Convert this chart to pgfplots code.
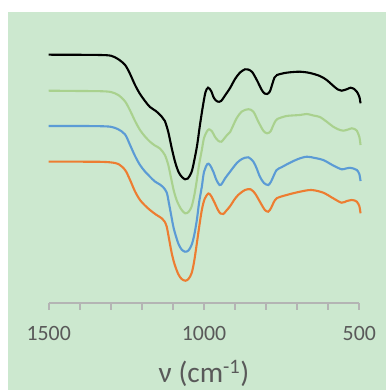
\documentclass[border=0pt]{standalone}
\usepackage{fontspec}
\setmainfont{Carlito}
\usepackage{pgfplots}
\pgfplotsset{compat=1.18}
\definecolor{bg}{HTML}{CCE8CF}
\definecolor{cgreen}{HTML}{A9D18E}
\definecolor{cblue}{HTML}{5B9BD5}
\definecolor{corange}{HTML}{ED7D31}
\definecolor{txt}{HTML}{595959}
\definecolor{axgray}{HTML}{B4B4B4}
\begin{document}
\begin{tikzpicture}[x=1pt,y=1pt]
\fill[white] (0,0) rectangle (386,390);
\fill[bg] (8,0) rectangle (386,378);
\begin{axis}[
  at={(48.7pt,86.7pt)}, anchor=south west,
  scale only axis, width=310.6pt, height=291.3pt,
  xmin=500, xmax=1500, ymin=86.7, ymax=378,
  x dir=reverse, clip=false,
  axis x line=bottom, axis y line=none,
  axis line style={-, draw=axgray, line width=2pt},
  every outer x axis line/.append style={-, draw=axgray, line width=2pt},
  xtick={500,1000,1500}, xticklabels={500,1000,1500},
  minor xtick={600,700,800,900,1100,1200,1300,1400},
  tick align=outside, major tick length=6.5pt, minor tick length=6.5pt,
  tick style={draw=axgray, line width=2pt},
  major tick style={draw=axgray, line width=2pt},
  minor tick style={draw=axgray, line width=2pt},
  /pgf/number format/assume math mode=true,
  xticklabel style={font=\fontsize{21.8}{26}\selectfont, text=txt, yshift=-13pt},
  xlabel={ν (cm\textsuperscript{-1})},
  xlabel style={at={(axis description cs:0.5,0)}, anchor=center, yshift=-69.7pt, font=\fontsize{29.3}{34}\selectfont, text=txt},
]
\addplot[black, line width=2.1pt, smooth] coordinates {
(1500,335.3) (1399,335.2) (1335,335) (1300,334.3) (1277,331) (1254,325) (1238,316) (1222,305) (1206,296) (1190,289) (1174,283) (1155,279) (1136,273.3) (1126,269) (1115,258) (1104,242) (1093,228) (1082,218) (1071,213) (1061,210.7) (1052,211.5) (1040,218) (1031,230) (1022,245) (1013,265) (1003,285) (995,298) (987,302.3) (977,299) (968,292) (957,288.5) (945,289) (929,296) (916,302) (900,311) (884,317.5) (868,320.7) (858,320.5) (845,318) (830,310) (814,300) (805,296.5) (797,296) (788,298.5) (780,306) (773,312.5) (765,315) (734,317.3) (691,318.3) (659,317) (627,314) (605,310) (585,304.5) (569,300.5) (557,299.3) (541,300.7) (528,302.3) (519,301.5) (508,298.3) (500,293.3) (496,286.7)
};
\addplot[cgreen, line width=2.1pt, smooth] coordinates {
(1500,299.3) (1399,299) (1335,298.8) (1300,298) (1276,295) (1254,288.5) (1238,279.5) (1222,269) (1206,260) (1190,253.5) (1174,248.3) (1158,244.5) (1142,241.5) (1126,235) (1115,225) (1106,212) (1097,199) (1087,189) (1074,181) (1061,176.7) (1050,178) (1040,183.3) (1031,195) (1023,210) (1016,225) (1007,240) (1000,252) (991,258.3) (984,260.7) (974,258.5) (965,253.3) (955,249.5) (944,248.3) (927,254.5) (916,258) (895,271.7) (878,278.5) (857,280.8) (841,278.3) (825,268.3) (809,259.3) (797,256.7) (786,258.5) (778,264) (770,269) (764,271) (734,274) (691,275) (669,276) (648,274.5) (627,273) (605,268.3) (585,263.5) (568,260.7) (552,259.3) (536,260.5) (524,261.7) (515,261) (508,259.3) (500,253.3) (496,245)
};
\addplot[cblue, line width=2.1pt, smooth] coordinates {
(1500,264) (1399,264) (1335,263.8) (1300,263.2) (1276,260.7) (1254,255.5) (1238,245) (1222,234) (1206,225) (1190,218.5) (1174,213.3) (1158,208.5) (1142,205.5) (1132,203) (1120,197.5) (1113,187) (1104,172) (1097,161) (1083,146.7) (1072,140.5) (1061,138.3) (1050,139.5) (1040,145) (1032,154) (1023,170) (1016,187) (1007,203.3) (1000,218) (989,226) (981,225) (970,218.3) (960,210) (950,205) (942,206.5) (932,211.7) (916,218.3) (895,226.7) (878,231) (857,232.7) (841,228.3) (831,222) (820,213.3) (807,207) (793,205) (784,208.5) (777,213.3) (766,220) (749,223) (723,227.3) (697,231) (669,233.3) (643,232) (616,230) (584,224.5) (557,220.7) (543,221.5) (530,222.2) (519,221.5) (508,220) (500,216) (496,209)
};
\addplot[corange, line width=2.1pt, smooth] coordinates {
(1500,228.3) (1399,228.3) (1335,228.2) (1300,227.6) (1276,226) (1254,220) (1238,210) (1222,198.5) (1206,190) (1190,184.5) (1174,180) (1155,175.5) (1136,171.7) (1127,168.5) (1120,163.3) (1113,152) (1104,137) (1095,126) (1083,116) (1072,111) (1060,109.3) (1050,111) (1040,116.7) (1032,128) (1023,146.7) (1016,162) (1007,180) (998,191) (986,196.5) (977,194) (965,186.7) (955,180) (947,176.5) (938,176) (929,179) (916,183.8) (903,190) (890,195) (868,200) (850,200.7) (836,196.7) (825,191) (814,185) (804,180) (793,178.3) (784,182) (777,186.7) (766,191.7) (734,195) (691,198.3) (654,200) (616,197.3) (584,191.7) (557,187.3) (540,189) (524,190) (515,189.5) (508,188.3) (500,184) (496,176.7)
};
\end{axis}
\pgfresetboundingbox
\path (0,0) rectangle (386,390);
\end{tikzpicture}
\end{document}
